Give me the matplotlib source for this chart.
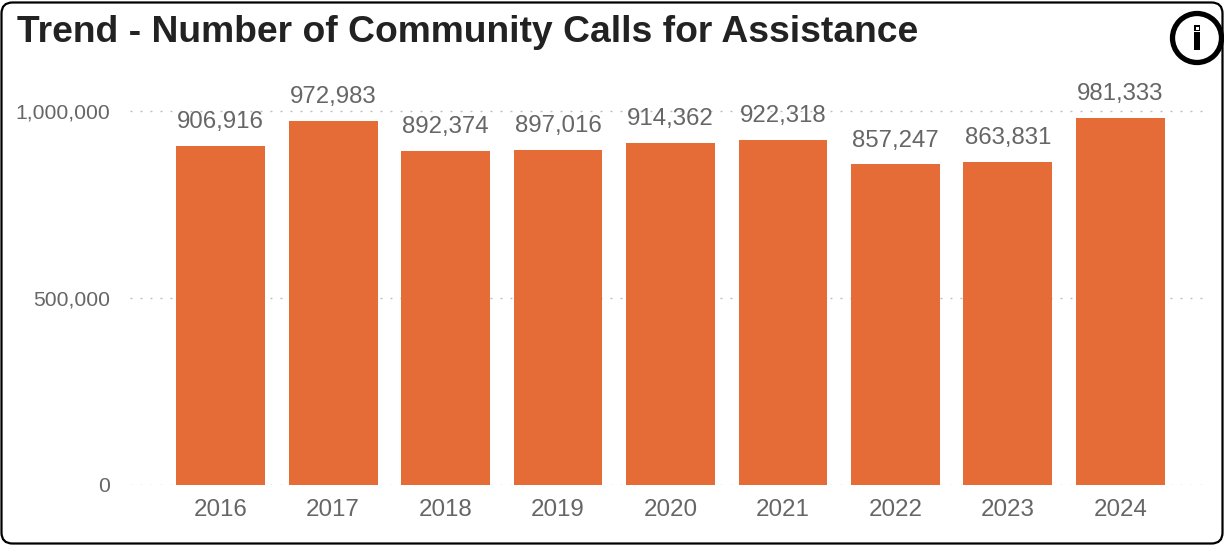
import matplotlib
matplotlib.use('Agg')
import matplotlib.pyplot as plt
from matplotlib.patches import FancyBboxPatch, Circle, Rectangle
import numpy as np

years = ['2016', '2017', '2018', '2019', '2020', '2021', '2022', '2023', '2024']
calls = [906916, 972983, 892374, 897016, 914362, 922318, 857247, 863831, 981333]
y_ticks = [0, 500000, 1000000]

W, H = 1224, 545
bar_color = '#E56C37'
text_color = '#666666'

plt.rcParams['font.family'] = ['Liberation Sans', 'DejaVu Sans']

fig = plt.figure(figsize=(W / 100, H / 100), dpi=100)

# plot area, in pixels from the top left of the picture
left, right, top, bottom = 130, 1204, 80, 485
ax = fig.add_axes([left / W, 1 - bottom / H, (right - left) / W, (bottom - top) / H])

pos = np.arange(len(years))
ax.bar(pos, calls, width=0.79, color=bar_color, zorder=2)

for x, v in zip(pos, calls):
    ax.annotate(f'{v:,}', (x, v), xytext=(0, 9.2), textcoords='offset points',
                ha='center', va='bottom', fontsize=17.3, color=text_color, zorder=3)

ax.set_xlim(-0.806, 8.744)
ax.set_ylim(0, 1000000 * (bottom - top) / 374)
ax.set_xticks(pos)
ax.set_xticklabels(years)
ax.set_yticks(y_ticks)
ax.set_yticklabels([f'{t:,}' for t in y_ticks])
ax.tick_params(axis='x', length=0, pad=10, labelsize=17.4, labelcolor=text_color)
ax.tick_params(axis='y', length=0, pad=14.2, labelsize=15.2, labelcolor=text_color)
ax.grid(axis='y', color='#BDBDBD', linewidth=1.0, linestyle=(0, (1.4, 5.8)), zorder=1)
ax.set_axisbelow(True)
for s in ax.spines.values():
    s.set_visible(False)
ax.patch.set_alpha(0)

# overlay for the card border and the info icon, in pixel coordinates
ov = fig.add_axes([0, 0, 1, 1], zorder=5)
ov.set_xlim(0, W)
ov.set_ylim(H, 0)
ov.axis('off')
ov.patch.set_alpha(0)
ov.add_patch(FancyBboxPatch((1.5, 2.5), W - 3, H - 4, boxstyle='round,pad=0,rounding_size=11',
                            fill=False, edgecolor='black', linewidth=1.6))
ov.add_patch(Circle((1197, 38), 24.5, fill=False, edgecolor='black', linewidth=3.8))
ov.add_patch(Rectangle((1194, 32), 6, 18, color='black', linewidth=0))
ov.add_patch(Rectangle((1194, 25), 6, 6, color='black', linewidth=0))
ov.add_patch(Rectangle((1195.5, 26.5), 3, 3, color='white', linewidth=0))

fig.text(17 / W, 1 - 32 / H, 'Trend - Number of Community Calls for Assistance',
         fontsize=26.8, fontweight='bold', color='#222222', ha='left', va='center')

fig.savefig('out.png', dpi=100)
